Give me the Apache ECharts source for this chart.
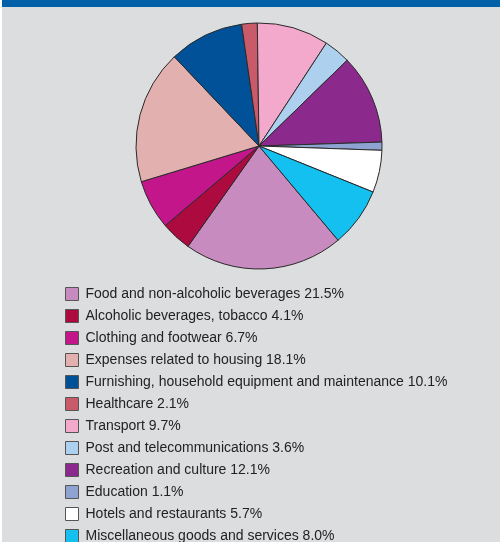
<!DOCTYPE html>
<html>
<head>
<meta charset="utf-8">
<script src="https://cdn.jsdelivr.net/npm/echarts@6/dist/echarts.min.js"></script>
<style>
  html, body { margin: 0; padding: 0; background: #ffffff; }
  #chart { width: 502px; height: 542px; }
</style>
</head>
<body>
<div id="chart"></div>
<script>
// Household consumption expenditure structure (%)
const categories = [
  'Food and non-alcoholic beverages',
  'Alcoholic beverages, tobacco',
  'Clothing and footwear',
  'Expenses related to housing',
  'Furnishing, household equipment and maintenance',
  'Healthcare',
  'Transport',
  'Post and telecommunications',
  'Recreation and culture',
  'Education',
  'Hotels and restaurants',
  'Miscellaneous goods and services'
];
const shares = [21.5, 4.1, 6.7, 18.1, 10.1, 2.1, 9.7, 3.6, 12.1, 1.1, 5.7, 8.0];
const colors = [
  '#c78bbf', '#ad0a3f', '#c4168b', '#e2b0ae', '#005198', '#c95a6a',
  '#f3a9cc', '#acd0ee', '#8b2a8c', '#8ea3d2', '#ffffff', '#13c0f0'
];

const data = categories.map((name, i) => ({
  name: name,
  value: shares[i],
  itemStyle: { color: colors[i] }
}));
const shareByName = {};
categories.forEach((c, i) => { shareByName[c] = shares[i]; });

const chart = echarts.init(document.getElementById('chart'), null, { renderer: 'canvas' });
chart.setOption({
  animation: false,
  backgroundColor: '#ffffff',
  graphic: [
    { type: 'rect', z: -10, shape: { x: 2, y: 0, width: 498, height: 542 }, style: { fill: '#dcdddf' } },
    { type: 'rect', z: -5, shape: { x: 2, y: 0, width: 498, height: 7 }, style: { fill: '#0060a8' } }
  ],
  legend: {
    orient: 'vertical',
    left: 60,
    top: 282,
    height: 400,
    itemWidth: 13,
    itemHeight: 13,
    itemGap: 8,
    icon: 'rect',
    itemStyle: { borderColor: '#555555', borderWidth: 1 },
    textStyle: { fontFamily: 'Liberation Sans', fontSize: 14, color: '#222222', padding: [0, 0, 0, 2] },
    selectedMode: false,
    formatter: name => name + ' ' + shareByName[name].toFixed(1) + '%'
  },
  series: [{
    type: 'pie',
    center: [259, 146],
    radius: [0, 123],
    startAngle: -50,
    clockwise: true,
    label: { show: false },
    labelLine: { show: false },
    itemStyle: { borderColor: '#2a2a2a', borderWidth: 1 },
    emphasis: { disabled: true },
    data: data
  }]
});
</script>
</body>
</html>
